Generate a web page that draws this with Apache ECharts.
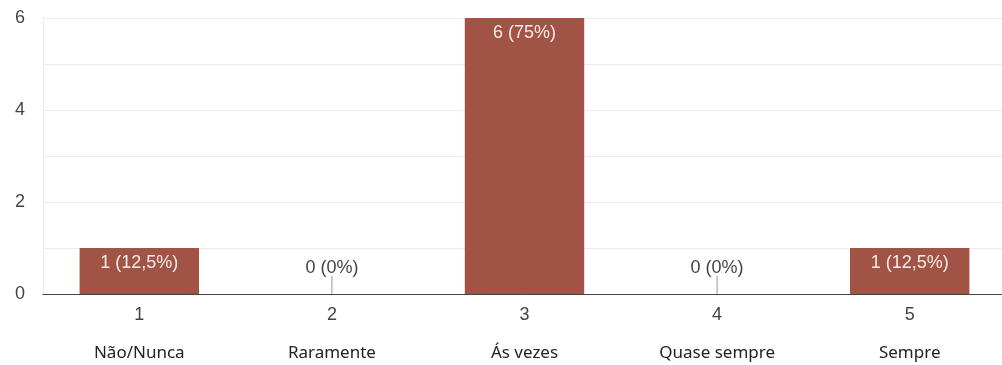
<!DOCTYPE html>
<html>
<head>
<meta charset="utf-8">
<script src="https://cdn.jsdelivr.net/npm/echarts@6/dist/echarts.min.js"></script>
<style>
  html, body { margin: 0; padding: 0; background: #fff; overflow: hidden; }
  #chart { width: 1002px; height: 365px; }
</style>
</head>
<body>
<div id="chart"></div>
<script>
// Survey answers: scale point, its name, response count and share
const categories = ['1', '2', '3', '4', '5'];
const names = ['Não/Nunca', 'Raramente', 'Ás vezes', 'Quase sempre', 'Sempre'];
const counts = [1, 0, 6, 0, 1];
const percents = ['12,5%', '0%', '75%', '0%', '12,5%'];
const yTicks = [0, 2, 4, 6];

const barColor = '#a15345';
const numFont = 'Liberation Sans, Arial, sans-serif';

const barData = counts.map((c) => ({
  value: c,
  label: c === 0
    ? { position: 'top', distance: 17, color: '#444' }
    : { position: 'insideTop', distance: 6, color: '#f6ebe8' }
}));

// Small stubs marking empty answers
const zeroData = counts.map((c, i) => c === 0 ? [i, 0] : null).filter(Boolean);

const chart = echarts.init(document.getElementById('chart'));
chart.setOption({
  animation: false,
  grid: { left: 43, right: -4, top: 18, bottom: 71, outerBoundsMode: 'none', containLabel: false },
  xAxis: {
    type: 'category',
    data: categories,
    axisLine: { lineStyle: { color: '#444', width: 1 } },
    axisTick: { show: false },
    axisLabel: {
      interval: 0,
      margin: 2,
      formatter: (v, i) => '{n|' + v + '}\n{c|' + names[i] + '}',
      rich: {
        n: { fontFamily: numFont, fontSize: 18, color: '#444', lineHeight: 38 },
        c: { fontFamily: 'Noto Sans, Open Sans, sans-serif', fontSize: 17, color: '#222', lineHeight: 38 }
      }
    }
  },
  yAxis: {
    type: 'value',
    min: 0,
    max: 6,
    interval: 1,
    axisLine: { show: true, lineStyle: { color: '#ebebeb' } },
    axisTick: { show: false },
    splitLine: { lineStyle: { color: '#ebebeb' } },
    axisLabel: {
      margin: 18,
      fontFamily: numFont,
      fontSize: 18,
      color: '#444',
      formatter: v => yTicks.includes(v) ? String(v) : ''
    }
  },
  series: [
    {
      type: 'bar',
      data: barData,
      barWidth: '62%',
      itemStyle: { color: barColor },
      label: {
        show: true,
        fontFamily: numFont,
        fontSize: 18,
        formatter: p => counts[p.dataIndex] + ' (' + percents[p.dataIndex] + ')'
      }
    },
    {
      type: 'custom',
      data: zeroData,
      silent: true,
      renderItem: (params, api) => {
        const p = api.coord([api.value(0), api.value(1)]);
        return {
          type: 'line',
          shape: { x1: p[0], y1: p[1], x2: p[0], y2: p[1] - 18 },
          style: { stroke: '#999', lineWidth: 1 }
        };
      },
      z: 3
    }
  ]
});
</script>
</body>
</html>
